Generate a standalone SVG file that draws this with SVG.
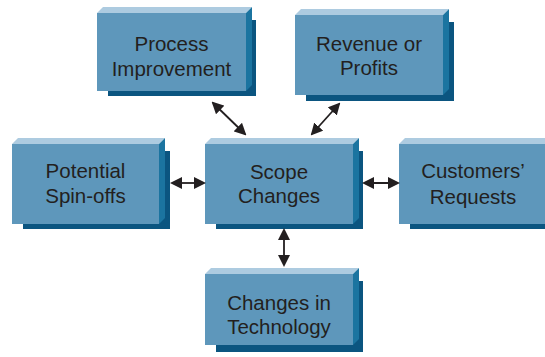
<svg xmlns="http://www.w3.org/2000/svg" width="545" height="357" viewBox="0 0 545 357">
<defs>
<style>
.shadow{fill:#0b5580}
.front{fill:#5e97bb}
.top{fill:#adcbe0}
.side{fill:#1b74a0}
.lbl{font-family:"Liberation Sans",Arial,sans-serif;font-size:20.5px;fill:#231f20;text-anchor:middle}
.conn{stroke:#231f20;stroke-width:1.8;fill:none;marker-start:url(#ah);marker-end:url(#ah)}
</style>
<marker id="ah" markerUnits="userSpaceOnUse" markerWidth="12" markerHeight="12" refX="10" refY="6" orient="auto-start-reverse" viewBox="0 0 12 12">
<path d="M0,0 L12,6 L0,12 z" fill="#231f20"/>
</marker>
</defs>
<rect width="545" height="357" fill="#fff"/>

<g id="process-improvement">
<rect class="shadow" x="108" y="20" width="148" height="76"/>
<polygon class="top" points="97,13 103,7 252,7 246,13"/>
<polygon class="side" points="246,13 252,7 252,85 246,91"/>
<rect class="front" x="97" y="13" width="149" height="78"/>
<text class="lbl" x="171.5" y="51">Process</text>
<text class="lbl" x="171.5" y="76">Improvement</text>
</g>

<g id="revenue-or-profits">
<rect class="shadow" x="306" y="22" width="148" height="79"/>
<polygon class="top" points="295,15 301,9 449,9 443,15"/>
<polygon class="side" points="443,15 449,9 449,89 443,95"/>
<rect class="front" x="295" y="15" width="148" height="80"/>
<text class="lbl" x="369" y="51">Revenue or</text>
<text class="lbl" x="369" y="75">Profits</text>
</g>

<g id="potential-spin-offs">
<rect class="shadow" x="23" y="151" width="147" height="78"/>
<polygon class="top" points="12,144 18,138 165,138 159,144"/>
<polygon class="side" points="159,144 165,138 165,218 159,224"/>
<rect class="front" x="12" y="144" width="147" height="80"/>
<text class="lbl" x="85.5" y="178">Potential</text>
<text class="lbl" x="85.5" y="203">Spin-offs</text>
</g>

<g id="scope-changes">
<rect class="shadow" x="216" y="151" width="147" height="78"/>
<polygon class="top" points="205,144 211,138 359,138 353,144"/>
<polygon class="side" points="353,144 359,138 359,218 353,224"/>
<rect class="front" x="205" y="144" width="148" height="80"/>
<text class="lbl" x="279" y="179">Scope</text>
<text class="lbl" x="279" y="203">Changes</text>
</g>

<g id="customers-requests">
<rect class="shadow" x="410" y="151" width="147" height="78"/>
<polygon class="top" points="399,144 405,138 553,138 547,144"/>
<polygon class="side" points="547,144 553,138 553,218 547,224"/>
<rect class="front" x="399" y="144" width="148" height="80"/>
<text class="lbl" x="473" y="178">Customers’</text>
<text class="lbl" x="473" y="204">Requests</text>
</g>

<g id="changes-in-technology">
<rect class="shadow" x="216" y="281" width="147" height="71"/>
<polygon class="top" points="205,274 211,268 359,268 353,274"/>
<polygon class="side" points="353,274 359,268 359,339 353,345"/>
<rect class="front" x="205" y="274" width="148" height="71"/>
<text class="lbl" x="279" y="310">Changes in</text>
<text class="lbl" x="279" y="334">Technology</text>
</g>

<g id="connectors">
<line class="conn" x1="213" y1="103" x2="245" y2="134"/>
<line class="conn" x1="339" y1="104" x2="312" y2="134"/>
<line class="conn" x1="172" y1="183" x2="204" y2="183"/>
<line class="conn" x1="364" y1="183" x2="398" y2="183"/>
<line class="conn" x1="284" y1="230" x2="284" y2="265"/>
</g>
</svg>
